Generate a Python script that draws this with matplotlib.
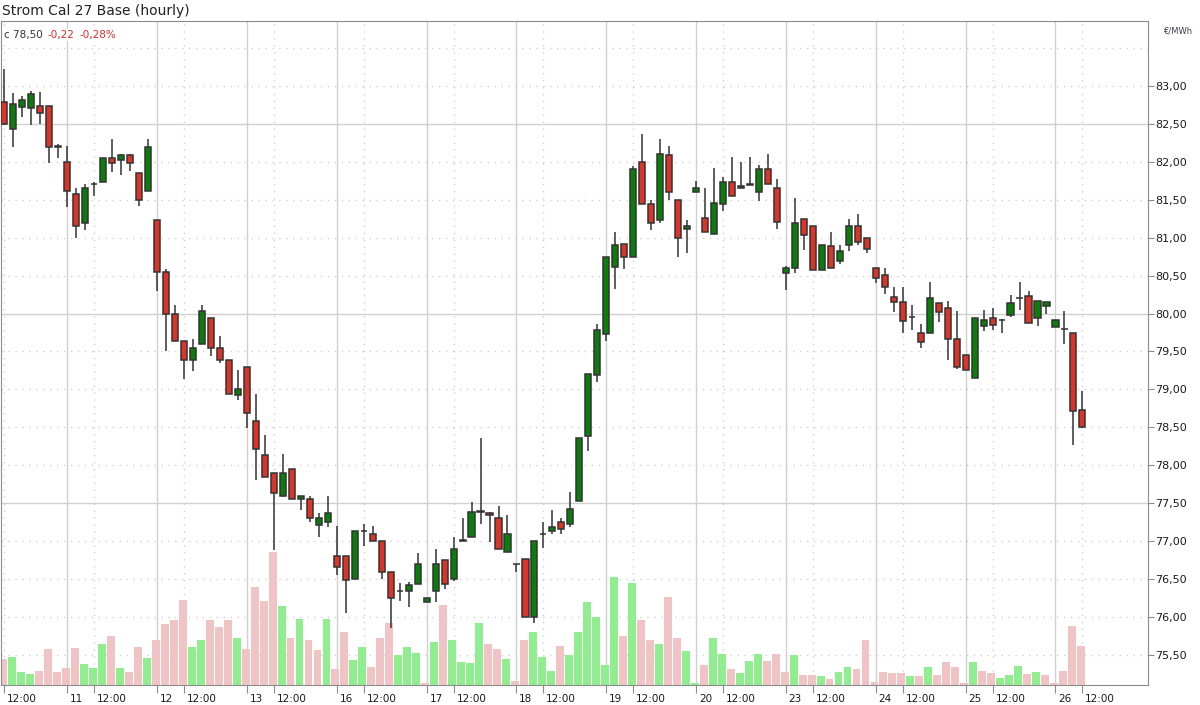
import matplotlib
matplotlib.use('Agg')
import matplotlib.pyplot as plt
import matplotlib.transforms as mtransforms
from matplotlib.ticker import FuncFormatter
import numpy as np

title = 'Strom Cal 27 Base (hourly)'
unit = '€/MWh'

# trading days shown, hourly candles 09:00-18:00 (first day starts 12:00, last ends 12:00)
days = [10, 11, 12, 13, 16, 17, 18, 19, 20, 23, 24, 25, 26]
first_hour = {10: 12}
last_hour = {26: 12}

opens = [82.79, 82.43, 82.72, 82.71, 82.74, 82.74, 82.21, 82.00, 81.58, 81.19,
         81.71, 81.73, 82.05, 82.02, 82.09, 81.85, 81.61, 81.24, 80.55, 80.00,
         79.64, 79.39, 79.60, 79.94, 79.55, 79.39, 78.93, 79.30, 78.59, 78.14,
         77.90, 77.60, 77.95, 77.55, 77.55, 77.21, 77.25, 76.80, 76.80, 76.50,
         77.14, 77.10, 77.00, 76.59, 76.34, 76.34, 76.43, 76.20, 76.34, 76.75,
         76.50, 77.00, 77.05, 77.39, 77.37, 77.30, 76.86, 76.70, 76.76, 76.00,
         77.09, 77.13, 77.25, 77.23, 77.53, 78.39, 79.19, 79.73, 80.62, 80.92,
         80.75, 82.00, 81.44, 81.24, 82.09, 81.50, 81.11, 81.60, 81.26, 81.05,
         81.45, 81.74, 81.65, 81.70, 81.60, 81.91, 81.65, 80.54, 80.60, 81.25,
         81.16, 80.58, 80.89, 80.69, 80.90, 81.16, 81.00, 80.60, 80.51, 80.22,
         80.15, 79.96, 79.75, 79.75, 80.14, 80.07, 79.67, 79.45, 79.15, 79.84,
         79.94, 79.91, 79.98, 80.20, 80.23, 79.94, 80.10, 79.82, 79.80, 79.74,
         78.73]
highs = [83.22, 82.91, 82.87, 82.93, 82.92, 82.74, 82.23, 82.21, 81.65, 81.71,
         81.74, 82.05, 82.30, 82.11, 82.10, 81.85, 82.30, 81.24, 80.59, 80.11,
         79.64, 79.66, 80.11, 79.94, 79.70, 79.39, 79.25, 79.30, 78.94, 78.40,
         77.90, 78.15, 77.95, 77.59, 77.60, 77.37, 77.60, 77.20, 76.80, 77.13,
         77.23, 77.20, 77.00, 76.59, 76.45, 76.46, 76.85, 76.25, 76.90, 76.75,
         77.05, 77.30, 77.51, 78.36, 77.38, 77.46, 77.35, 76.70, 76.76, 77.00,
         77.25, 77.41, 77.30, 77.65, 78.36, 79.20, 79.86, 80.75, 81.08, 80.92,
         81.95, 82.37, 81.50, 82.30, 82.21, 81.50, 81.23, 81.75, 81.65, 81.92,
         81.80, 82.06, 82.00, 82.06, 81.96, 82.11, 81.77, 80.63, 81.52, 81.25,
         81.16, 80.90, 81.08, 80.90, 81.25, 81.31, 81.00, 80.60, 80.60, 80.35,
         80.35, 80.11, 79.86, 80.41, 80.14, 80.16, 80.03, 79.45, 79.94, 80.05,
         80.08, 79.93, 80.25, 80.41, 80.30, 80.17, 80.15, 79.92, 80.04, 79.74,
         78.98]
lows = [82.49, 82.20, 82.59, 82.48, 82.50, 81.99, 82.05, 81.40, 80.99, 81.10,
        81.55, 81.73, 81.86, 81.83, 81.88, 81.42, 81.61, 80.30, 79.50, 79.64,
        79.14, 79.24, 79.60, 79.44, 79.35, 78.94, 78.86, 78.49, 77.80, 77.84,
        76.88, 77.58, 77.55, 77.41, 77.25, 77.05, 77.19, 76.55, 76.05, 76.50,
        76.94, 77.00, 76.50, 75.85, 76.21, 76.13, 76.43, 76.20, 76.20, 76.37,
        76.48, 77.00, 77.05, 77.23, 76.99, 76.89, 76.86, 76.59, 76.00, 75.92,
        76.91, 77.09, 77.09, 77.19, 77.53, 78.19, 79.10, 79.64, 80.33, 80.59,
        80.75, 81.45, 81.10, 81.19, 81.50, 80.75, 80.80, 81.60, 81.08, 81.05,
        81.35, 81.55, 81.65, 81.70, 81.48, 81.71, 81.11, 80.31, 80.54, 80.84,
        80.58, 80.58, 80.60, 80.65, 80.83, 80.90, 80.80, 80.40, 80.26, 80.02,
        79.74, 79.79, 79.54, 79.75, 79.89, 79.39, 79.27, 79.25, 79.15, 79.77,
        79.79, 79.75, 79.95, 80.05, 79.87, 79.84, 79.99, 79.82, 79.60, 78.27,
        78.49]
closes = [82.50, 82.76, 82.82, 82.90, 82.65, 82.20, 82.20, 81.61, 81.16, 81.65,
          81.71, 82.05, 81.99, 82.09, 81.99, 81.50, 82.20, 80.55, 80.00, 79.64,
          79.39, 79.55, 80.04, 79.55, 79.39, 78.94, 79.00, 78.69, 78.22, 77.84,
          77.64, 77.90, 77.56, 77.59, 77.30, 77.30, 77.37, 76.66, 76.49, 77.13,
          77.14, 77.00, 76.59, 76.25, 76.34, 76.42, 76.70, 76.25, 76.70, 76.43,
          76.89, 77.01, 77.39, 77.40, 77.34, 76.89, 77.09, 76.70, 76.00, 77.00,
          77.09, 77.19, 77.16, 77.43, 78.36, 79.20, 79.79, 80.75, 80.90, 80.75,
          81.90, 81.45, 81.19, 82.10, 81.60, 81.00, 81.15, 81.65, 81.08, 81.46,
          81.74, 81.55, 81.68, 81.71, 81.90, 81.71, 81.21, 80.60, 81.20, 81.03,
          80.58, 80.90, 80.60, 80.83, 81.16, 80.94, 80.85, 80.47, 80.35, 80.15,
          79.90, 79.96, 79.63, 80.20, 80.02, 79.67, 79.30, 79.25, 79.94, 79.91,
          79.85, 79.91, 80.14, 80.20, 79.87, 80.17, 80.15, 79.92, 79.80, 78.72,
          78.50]
volumes = [63, 68, 30, 25, 33, 88, 30, 40, 90, 50,
           40, 100, 120, 40, 30, 93, 65, 110, 150, 160,
           210, 93, 110, 160, 143, 160, 117, 88, 242, 207,
           329, 195, 115, 162, 112, 85, 162, 38, 130, 60,
           93, 43, 115, 152, 73, 93, 78, 3, 107, 197,
           112, 55, 53, 152, 102, 88, 63, 8, 110, 130,
           68, 33, 95, 73, 130, 205, 167, 48, 267, 122,
           252, 160, 112, 100, 219, 115, 83, 3, 48, 115,
           75, 38, 28, 58, 75, 58, 75, 30, 73, 23,
           23, 20, 13, 30, 43, 38, 110, 5, 30, 28,
           28, 20, 20, 43, 23, 55, 43, 3, 55, 33,
           28, 15, 23, 45, 25, 30, 23, 3, 33, 145,
           95]

UP = '#0a7d0a'
DOWN = '#dc3428'
EDGE = '#333333'
VOL_UP = '#90ee90'
VOL_DOWN = '#f0c4c4'
GRID = '#d0d0d0'
FRAME = '#8c8c8c'

slots = []
for d in days:
    for h in range(first_hour.get(d, 9), last_hour.get(d, 18) + 1):
        slots.append((d, h))

o = np.array(opens)
hi = np.array(highs)
lo = np.array(lows)
c = np.array(closes)
v = np.array(volumes)
xs = np.arange(len(c))

body_col = [UP if cc > oo else DOWN for oo, cc in zip(o, c)]
prev = np.concatenate([[o[0]], c[:-1]])
vol_col = [VOL_UP if cc > pp else VOL_DOWN for pp, cc in zip(prev, c)]

fig = plt.figure(figsize=(12, 7.05), dpi=100)
ax = fig.add_axes([1 / 1200, 20.5 / 705, 1147 / 1200, 663.5 / 705])
axv = ax.twinx()
axv.set_zorder(0)
ax.set_zorder(1)
ax.patch.set_visible(False)

ax.set_xlim(-0.38, 127.3)
ax.set_ylim(75.11, 83.857)
axv.set_ylim(0, 1652)

# grid (drawn on the lower axes so volume bars sit over it)
for i, (d, h) in enumerate(slots):
    if h == 9:
        axv.axvline(i, color=GRID, lw=1, zorder=1)
    elif h == 12:
        axv.axvline(i, color=GRID, lw=1, ls=(0, (1, 4)), zorder=1)
hgrid = mtransforms.blended_transform_factory(axv.transAxes, ax.transData)
for p in np.arange(75.5, 83.51, 0.5):
    if abs((p - 77.5) % 2.5) < 1e-6:
        axv.plot([0, 1], [p, p], transform=hgrid, color=GRID, lw=1, zorder=1)
    else:
        axv.plot([0, 1], [p, p], transform=hgrid, color=GRID, lw=1, ls=(0, (1, 4)), zorder=1)

axv.bar(xs - 0.15, v, width=0.88, color=vol_col, zorder=2)

# candles
ax.vlines(xs, lo, hi, color=EDGE, lw=1.1, zorder=2)
ax.bar(xs, np.abs(c - o), bottom=np.minimum(o, c), width=0.68,
       color=body_col, edgecolor=EDGE, linewidth=1.1, zorder=3)

# axes styling
for s in ax.spines.values():
    s.set_color(FRAME)
for s in axv.spines.values():
    s.set_visible(False)
axv.set_yticks([])

ticks, labels = [], []
for i, (d, h) in enumerate(slots):
    if h == 9:
        ticks.append(i)
        labels.append(str(d))
    elif h == 12:
        ticks.append(i)
        labels.append('12:00')
ax.set_xticks(ticks)
ax.set_xticklabels(labels)
ax.tick_params(axis='x', direction='out', length=6, color=FRAME, labelsize=7.5,
               labelcolor='#1a1a1a', pad=1)
offset = mtransforms.ScaledTranslation(2 / 72, 0, fig.dpi_scale_trans)
for lab in ax.get_xticklabels():
    lab.set_horizontalalignment('left')
    lab.set_transform(lab.get_transform() + offset)

ax.yaxis.tick_right()
ax.set_yticks(np.arange(75.5, 83.01, 0.5))
ax.yaxis.set_major_formatter(FuncFormatter(lambda y, pos: f'{y:.2f}'.replace('.', ',')))
ax.tick_params(axis='y', direction='out', length=4, color=FRAME, labelsize=8,
               labelcolor='#1a1a1a', pad=1)

# texts
fig.text(2 / 1200, 1 - 11 / 705, title, fontsize=10, va='center', color='#222222')
fig.text(1163 / 1200, 1 - 31 / 705, unit, fontsize=6, va='center', color='#3a4050')

last = c[-1]
chg = c[-1] - c[-2]
pct = chg / c[-2] * 100
fmt = lambda x: f'{x:.2f}'.replace('.', ',')
t1 = ax.annotate(f'c {fmt(last)}', xy=(0, 1), xycoords='axes fraction', xytext=(2, -10),
                 textcoords='offset points', fontsize=7.5, color='#333333', va='center',
                 bbox=dict(fc='white', ec='none', pad=0.5))
t2 = ax.annotate(fmt(chg), xy=(1, 0.5), xycoords=t1, xytext=(3.5, 0), textcoords='offset points',
                 fontsize=7.5, color='#e02a20', va='center', bbox=dict(fc='white', ec='none', pad=0.5))
ax.annotate(fmt(pct) + '%', xy=(1, 0.5), xycoords=t2, xytext=(3.5, 0), textcoords='offset points',
            fontsize=7.5, color='#e02a20', va='center', bbox=dict(fc='white', ec='none', pad=0.5))

fig.savefig('out.png', dpi=100)
